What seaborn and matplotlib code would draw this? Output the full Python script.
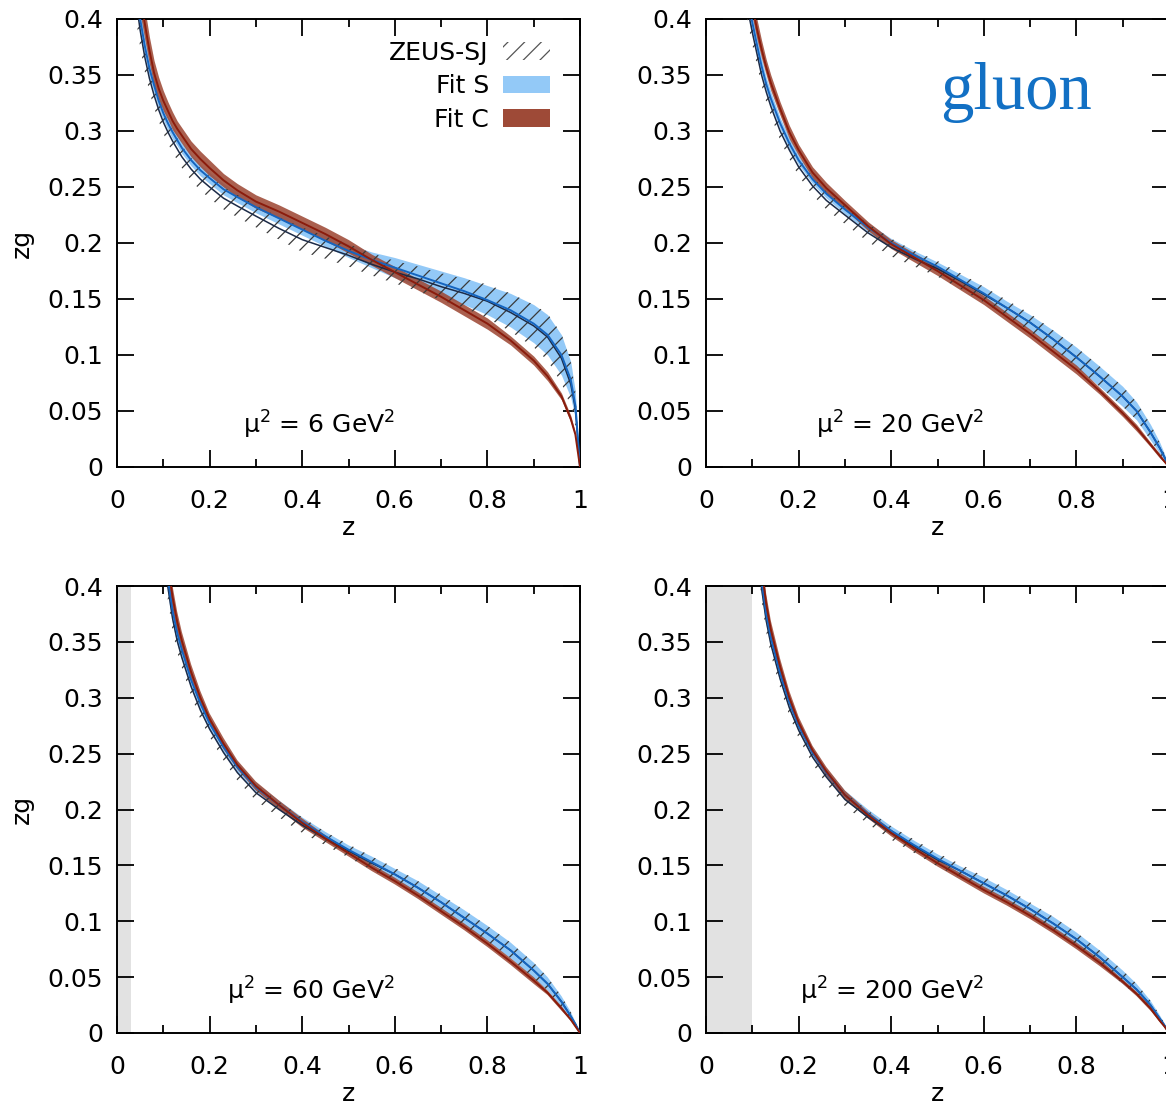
import numpy as np
import pandas as pd
import matplotlib
matplotlib.use("Agg")
import matplotlib.pyplot as plt
from matplotlib.patches import Patch
import seaborn as sns

# ---------------------------------------------------------------- data
z = [0.03, 0.04, 0.05, 0.06, 0.07, 0.08, 0.09, 0.10, 0.11, 0.12, 0.13, 0.14,
     0.16, 0.18, 0.20, 0.23, 0.26, 0.30, 0.35, 0.40, 0.45, 0.50, 0.55, 0.60,
     0.65, 0.70, 0.75, 0.80, 0.85, 0.90, 0.93, 0.96, 0.98, 0.99, 1.00]

scales = ["6", "20", "60", "200"]

# mu^2 = 6 GeV^2
fitS_6 = [0.474, 0.430, 0.400, 0.376, 0.356, 0.341, 0.327, 0.316, 0.307, 0.299, 0.292, 0.285,
          0.274, 0.265, 0.258, 0.248, 0.241, 0.232, 0.222, 0.212, 0.202, 0.193, 0.185, 0.178,
          0.171, 0.164, 0.157, 0.149, 0.140, 0.128, 0.118, 0.100, 0.078, 0.055, 0.0]
fitS_6_err = [0.016, 0.013, 0.011, 0.009, 0.008, 0.007, 0.007, 0.006, 0.006, 0.006, 0.005, 0.005,
              0.005, 0.005, 0.005, 0.005, 0.005, 0.005, 0.005, 0.005, 0.005, 0.006, 0.007, 0.009,
              0.010, 0.011, 0.012, 0.013, 0.015, 0.017, 0.018, 0.018, 0.016, 0.012, 0.0]
fitC_6 = [0.504, 0.455, 0.422, 0.396, 0.372, 0.352, 0.338, 0.327, 0.318, 0.309, 0.302, 0.296,
          0.284, 0.275, 0.267, 0.256, 0.247, 0.237, 0.228, 0.218, 0.208, 0.197, 0.185, 0.174,
          0.163, 0.152, 0.140, 0.128, 0.113, 0.095, 0.081, 0.063, 0.043, 0.029, 0.0]
fitC_6_err = [0.022, 0.019, 0.017, 0.014, 0.012, 0.011, 0.010, 0.009, 0.008, 0.008, 0.007, 0.007,
              0.007, 0.007, 0.007, 0.006, 0.006, 0.006, 0.006, 0.006, 0.006, 0.006, 0.005, 0.005,
              0.005, 0.005, 0.005, 0.005, 0.004, 0.004, 0.004, 0.003, 0.003, 0.002, 0.0]
zeus_6 = [0.460, 0.420, 0.390, 0.366, 0.347, 0.332, 0.319, 0.308, 0.299, 0.291, 0.284, 0.277,
          0.266, 0.257, 0.250, 0.240, 0.233, 0.224, 0.213, 0.203, 0.196, 0.189, 0.181, 0.174,
          0.168, 0.161, 0.155, 0.148, 0.138, 0.126, 0.116, 0.097, 0.074, 0.052, 0.0]
zeus_6_err = [0.020, 0.017, 0.015, 0.013, 0.012, 0.011, 0.010, 0.010, 0.010, 0.010, 0.010, 0.010,
              0.010, 0.010, 0.010, 0.010, 0.010, 0.010, 0.010, 0.011, 0.010, 0.010, 0.010, 0.010,
              0.011, 0.012, 0.013, 0.015, 0.017, 0.019, 0.021, 0.022, 0.020, 0.015, 0.0]

# mu^2 = 20 GeV^2
fitS_20 = [0.780, 0.660, 0.580, 0.520, 0.478, 0.443, 0.418, 0.397, 0.377, 0.358, 0.342, 0.329,
           0.307, 0.289, 0.274, 0.257, 0.244, 0.230, 0.214, 0.200, 0.189, 0.179, 0.167, 0.155,
           0.142, 0.129, 0.114, 0.098, 0.081, 0.063, 0.050, 0.031, 0.017, 0.009, 0.0]
fitS_20_err = [0.030, 0.024, 0.020, 0.016, 0.013, 0.011, 0.010, 0.009, 0.008, 0.007, 0.006, 0.006,
               0.005, 0.005, 0.004, 0.004, 0.004, 0.004, 0.004, 0.004, 0.004, 0.004, 0.005, 0.006,
               0.006, 0.007, 0.008, 0.009, 0.009, 0.009, 0.008, 0.007, 0.005, 0.003, 0.0]
fitC_20 = [0.800, 0.690, 0.610, 0.550, 0.505, 0.468, 0.437, 0.412, 0.391, 0.373, 0.357, 0.343,
           0.320, 0.299, 0.283, 0.263, 0.249, 0.234, 0.215, 0.199, 0.187, 0.175, 0.162, 0.149,
           0.134, 0.119, 0.103, 0.087, 0.068, 0.048, 0.035, 0.020, 0.010, 0.005, 0.0]
fitC_20_err = [0.030, 0.025, 0.021, 0.017, 0.014, 0.012, 0.011, 0.010, 0.009, 0.008, 0.007, 0.007,
               0.006, 0.006, 0.005, 0.005, 0.005, 0.004, 0.004, 0.004, 0.004, 0.004, 0.004, 0.004,
               0.004, 0.004, 0.004, 0.004, 0.003, 0.003, 0.003, 0.002, 0.002, 0.001, 0.0]
zeus_20 = [0.760, 0.645, 0.567, 0.509, 0.467, 0.433, 0.409, 0.388, 0.369, 0.350, 0.335, 0.322,
           0.300, 0.283, 0.268, 0.251, 0.238, 0.225, 0.209, 0.196, 0.186, 0.177, 0.166, 0.154,
           0.142, 0.129, 0.114, 0.098, 0.081, 0.063, 0.050, 0.031, 0.017, 0.009, 0.0]
zeus_20_err = [0.030, 0.025, 0.021, 0.018, 0.015, 0.013, 0.012, 0.011, 0.010, 0.009, 0.009, 0.008,
               0.008, 0.008, 0.008, 0.008, 0.008, 0.008, 0.008, 0.008, 0.007, 0.007, 0.007, 0.007,
               0.007, 0.008, 0.008, 0.009, 0.009, 0.009, 0.008, 0.007, 0.005, 0.003, 0.0]

# mu^2 = 60 GeV^2
fitS_60 = [1.200, 1.000, 0.850, 0.740, 0.640, 0.560, 0.500, 0.445, 0.406, 0.378, 0.358, 0.343,
           0.316, 0.295, 0.277, 0.256, 0.238, 0.220, 0.204, 0.189, 0.176, 0.164, 0.153, 0.142,
           0.130, 0.117, 0.103, 0.089, 0.074, 0.056, 0.044, 0.028, 0.015, 0.008, 0.0]
fitS_60_err = [0.040, 0.034, 0.029, 0.025, 0.021, 0.018, 0.016, 0.014, 0.012, 0.010, 0.009, 0.008,
               0.007, 0.006, 0.006, 0.005, 0.005, 0.004, 0.004, 0.004, 0.004, 0.004, 0.005, 0.005,
               0.006, 0.006, 0.007, 0.007, 0.007, 0.007, 0.006, 0.005, 0.004, 0.002, 0.0]
fitC_60 = [1.250, 1.030, 0.880, 0.770, 0.670, 0.590, 0.520, 0.463, 0.420, 0.390, 0.368, 0.351,
           0.323, 0.300, 0.281, 0.259, 0.240, 0.221, 0.204, 0.188, 0.174, 0.161, 0.148, 0.136,
           0.123, 0.109, 0.095, 0.080, 0.064, 0.047, 0.036, 0.022, 0.012, 0.006, 0.0]
fitC_60_err = [0.040, 0.034, 0.029, 0.025, 0.021, 0.018, 0.016, 0.014, 0.012, 0.010, 0.009, 0.008,
               0.007, 0.006, 0.005, 0.005, 0.004, 0.004, 0.004, 0.004, 0.003, 0.003, 0.003, 0.003,
               0.003, 0.003, 0.003, 0.003, 0.003, 0.003, 0.002, 0.002, 0.001, 0.001, 0.0]
zeus_60 = [1.180, 0.985, 0.838, 0.728, 0.630, 0.551, 0.492, 0.438, 0.399, 0.371, 0.351, 0.336,
           0.310, 0.289, 0.272, 0.251, 0.233, 0.215, 0.200, 0.186, 0.174, 0.163, 0.152, 0.142,
           0.130, 0.117, 0.103, 0.089, 0.074, 0.056, 0.044, 0.028, 0.015, 0.008, 0.0]
zeus_60_err = [0.040, 0.034, 0.029, 0.025, 0.021, 0.018, 0.016, 0.014, 0.012, 0.011, 0.010, 0.009,
               0.008, 0.008, 0.007, 0.007, 0.007, 0.007, 0.007, 0.007, 0.006, 0.006, 0.006, 0.006,
               0.006, 0.007, 0.007, 0.007, 0.007, 0.007, 0.006, 0.005, 0.004, 0.002, 0.0]

# mu^2 = 200 GeV^2
fitS_200 = [1.500, 1.250, 1.050, 0.900, 0.780, 0.680, 0.590, 0.520, 0.455, 0.405, 0.375, 0.354,
            0.322, 0.296, 0.275, 0.251, 0.233, 0.213, 0.196, 0.181, 0.168, 0.156, 0.145, 0.134,
            0.123, 0.111, 0.098, 0.084, 0.068, 0.050, 0.039, 0.025, 0.013, 0.007, 0.0]
fitS_200_err = [0.050, 0.042, 0.035, 0.030, 0.026, 0.022, 0.019, 0.016, 0.013, 0.011, 0.009, 0.008,
                0.007, 0.006, 0.005, 0.005, 0.004, 0.004, 0.004, 0.004, 0.004, 0.004, 0.004, 0.005,
                0.005, 0.005, 0.006, 0.006, 0.006, 0.006, 0.005, 0.004, 0.003, 0.002, 0.0]
fitC_200 = [1.550, 1.290, 1.080, 0.930, 0.800, 0.700, 0.610, 0.535, 0.468, 0.416, 0.384, 0.361,
            0.328, 0.300, 0.278, 0.253, 0.234, 0.213, 0.195, 0.179, 0.165, 0.152, 0.140, 0.128,
            0.117, 0.105, 0.092, 0.078, 0.063, 0.046, 0.035, 0.022, 0.011, 0.006, 0.0]
fitC_200_err = [0.050, 0.042, 0.035, 0.030, 0.026, 0.022, 0.019, 0.016, 0.013, 0.011, 0.009, 0.008,
                0.007, 0.006, 0.005, 0.004, 0.004, 0.004, 0.003, 0.003, 0.003, 0.003, 0.003, 0.003,
                0.003, 0.003, 0.003, 0.003, 0.003, 0.002, 0.002, 0.002, 0.001, 0.001, 0.0]
zeus_200 = [1.480, 1.235, 1.038, 0.889, 0.770, 0.671, 0.582, 0.513, 0.448, 0.398, 0.369, 0.348,
            0.317, 0.291, 0.271, 0.247, 0.229, 0.209, 0.193, 0.179, 0.167, 0.155, 0.145, 0.134,
            0.123, 0.111, 0.098, 0.084, 0.068, 0.050, 0.039, 0.025, 0.013, 0.007, 0.0]
zeus_200_err = [0.050, 0.042, 0.035, 0.030, 0.026, 0.022, 0.019, 0.016, 0.013, 0.011, 0.010, 0.009,
                0.008, 0.007, 0.007, 0.006, 0.006, 0.006, 0.006, 0.006, 0.006, 0.006, 0.006, 0.006,
                0.006, 0.006, 0.006, 0.006, 0.006, 0.006, 0.005, 0.004, 0.003, 0.002, 0.0]

# excluded low-z region per scale
excluded_z = [0.0, 0.0, 0.03, 0.10]

x_ticks = [0, 0.2, 0.4, 0.6, 0.8, 1]
x_ticklabels = ["0", "0.2", "0.4", "0.6", "0.8", "1"]
y_ticks = [0, 0.05, 0.1, 0.15, 0.2, 0.25, 0.3, 0.35, 0.4]
y_ticklabels = ["0", "0.05", "0.1", "0.15", "0.2", "0.25", "0.3", "0.35", "0.4"]

legend_labels = ["ZEUS-SJ", "Fit S", "Fit C"]

# ---------------------------------------------------------------- style
sns.set_theme(style="ticks")
plt.rcParams["font.family"] = ["DejaVu Sans"]
plt.rcParams["mathtext.fontset"] = "dejavusans"
plt.rcParams["mathtext.default"] = "regular"
plt.rcParams["hatch.linewidth"] = 0.9
for key in ("text.color", "axes.labelcolor", "xtick.color", "ytick.color",
            "xtick.labelcolor", "ytick.labelcolor"):
    plt.rcParams[key] = "black"

FS = 18
BLUE_BAND = "#93c9f7"
BLUE_LINE = "#1565c0"
BROWN_BAND = "#9e4a37"
BROWN_LINE = "#8a1c0c"
ZEUS_LINE = "#1c2b48"
HATCH_COL = "#3a3a3a"

series = {
    "6": (fitS_6, fitS_6_err, fitC_6, fitC_6_err, zeus_6, zeus_6_err),
    "20": (fitS_20, fitS_20_err, fitC_20, fitC_20_err, zeus_20, zeus_20_err),
    "60": (fitS_60, fitS_60_err, fitC_60, fitC_60_err, zeus_60, zeus_60_err),
    "200": (fitS_200, fitS_200_err, fitC_200, fitC_200_err, zeus_200, zeus_200_err),
}

W, H = 1166, 1106
fig = plt.figure(figsize=(W / 100, H / 100), dpi=100)

# axes boxes in pixels: (left, top, right, bottom)
boxes = [(117, 19, 580, 467), (706, 19, 1169, 467),
         (117, 586, 580, 1033), (706, 586, 1169, 1033)]

zarr = np.array(z)
for i, (mu, box) in enumerate(zip(scales, boxes)):
    l, t, r, b = box
    ax = fig.add_axes([l / W, 1 - b / H, (r - l) / W, (b - t) / H])
    s, se, c, ce, zs, zse = [np.array(v) for v in series[mu]]

    if excluded_z[i] > 0:
        ax.axvspan(0, excluded_z[i], color="#e2e2e2", lw=0, zorder=0)

    ax.fill_between(zarr, s - se, s + se, color=BLUE_BAND, lw=0, zorder=1)
    ax.fill_between(zarr, c - ce, c + ce, color=BROWN_BAND, alpha=0.88, lw=0, zorder=2)
    ax.fill_between(zarr, zs - zse, zs + zse, facecolor="none", edgecolor=HATCH_COL,
                    hatch="//", lw=0, zorder=3)

    df = pd.DataFrame({"z": zarr, "S": s, "C": c, "ZEUS": zs})
    sns.lineplot(data=df, x="z", y="ZEUS", ax=ax, color=ZEUS_LINE, lw=1.1, zorder=4)
    sns.lineplot(data=df, x="z", y="S", ax=ax, color=BLUE_LINE, lw=1.4, zorder=5)
    sns.lineplot(data=df, x="z", y="C", ax=ax, color=BROWN_LINE, lw=1.4, zorder=6)

    ax.set_xlim(0, 1)
    ax.set_ylim(0, 0.4)
    ax.set_xticks(x_ticks)
    ax.set_xticklabels(x_ticklabels)
    ax.set_xticks(np.arange(0.1, 1.0, 0.2), minor=True)
    ax.set_yticks(y_ticks)
    ax.set_yticklabels(y_ticklabels)
    ax.tick_params(which="both", direction="in", top=True, right=True,
                   color="black", labelcolor="black", width=1.3, labelsize=FS)
    ax.tick_params(which="major", length=12)
    ax.tick_params(which="minor", length=6)
    ax.tick_params(axis="x", pad=16)
    ax.tick_params(axis="y", pad=10)
    for sp in ax.spines.values():
        sp.set_color("black")
        sp.set_linewidth(1.4)
    ax.set_facecolor("white")

    ax.set_xlabel("z", fontsize=FS, labelpad=2, color="black")
    if i % 2 == 0:
        ax.set_ylabel("zg", fontsize=FS, labelpad=10, color="black")
    else:
        ax.set_ylabel("")

    ax.text(0.60, 0.030, r"μ$^{2}$ = " + mu + r" GeV$^{2}$", fontsize=FS,
            ha="right", va="baseline", color="black", zorder=7)

    if i == 0:
        handles = [Patch(facecolor="white", edgecolor="#555555", hatch="//", lw=0),
                   Patch(facecolor=BLUE_BAND, lw=0),
                   Patch(facecolor=BROWN_BAND, lw=0)]
        leg = ax.legend(handles, legend_labels, loc="upper right", frameon=False,
                        fontsize=FS, markerfirst=False, handlelength=1.9,
                        handleheight=0.7, handletextpad=0.55, labelspacing=0.38,
                        bbox_to_anchor=(0.968, 0.985), borderaxespad=0.2)
        for t in leg.get_texts():
            t.set_color("black")
    if i == 1:
        ax.text(0.67, 0.32, "gluon", fontsize=48, color="#1270c4",
                family=["Liberation Serif", "DejaVu Serif"], ha="center", va="baseline")

fig.savefig("out.png", dpi=100, facecolor="white")
